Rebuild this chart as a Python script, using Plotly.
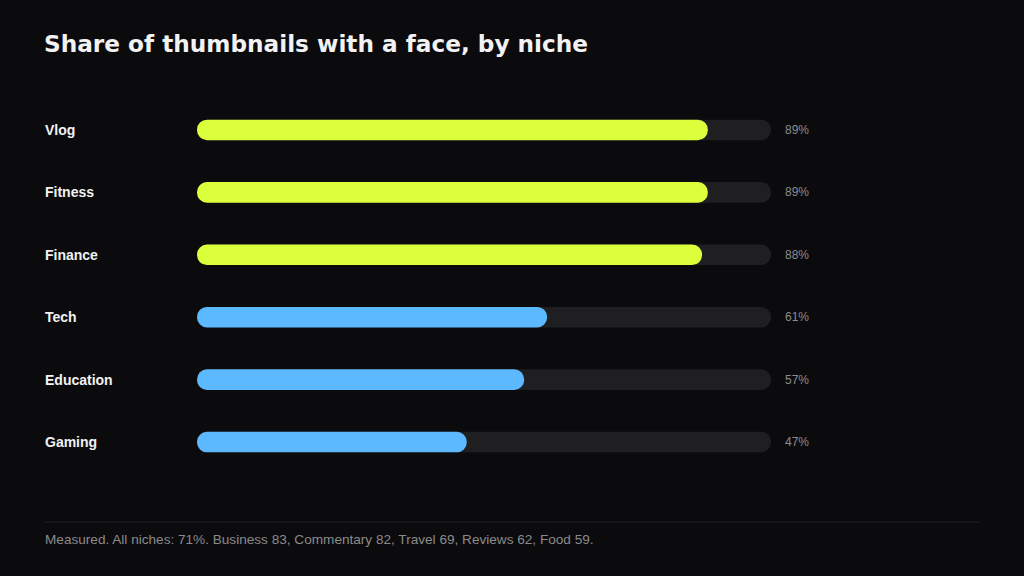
import plotly.graph_objects as go

niches = ["Vlog", "Fitness", "Finance", "Tech", "Education", "Gaming"]
shares = [89, 89, 88, 61, 57, 47]
bar_colors = ["#dcff3c", "#dcff3c", "#dcff3c", "#5cb8ff", "#5cb8ff", "#5cb8ff"]
track_max = 100
title_text = "Share of thumbnails with a face, by niche"
footer_text = "Measured. All niches: 71%. Business 83, Commentary 82, Travel 69, Reviews 62, Food 59."

W, H = 1024, 576
BG = "#0b0b0e"
TRACK = "#1f1f21"
BAR_W = 0.33

fig = go.Figure()
fig.add_trace(go.Bar(
    y=niches, x=[track_max] * len(niches), base=[0] * len(niches), orientation="h", yaxis="y",
    marker=dict(color=TRACK, line=dict(width=0), cornerradius="50%"),
    width=BAR_W, hoverinfo="skip", showlegend=False,
))
fig.add_trace(go.Bar(
    y=niches, x=shares, base=[0] * len(niches), orientation="h", yaxis="y2",
    marker=dict(color=bar_colors, line=dict(width=0), cornerradius="50%"),
    width=BAR_W, hoverinfo="skip", showlegend=False,
))

FONT = "Liberation Sans, Arial, sans-serif"
annotations = []
for n, v in zip(niches, shares):
    annotations.append(dict(
        x=43 / W, xref="paper", y=n, yref="y", text=f"<b>{n}</b>",
        xanchor="left", yanchor="middle", showarrow=False,
        font=dict(family=FONT, size=14, color="#f2f2f2"),
    ))
    annotations.append(dict(
        x=783 / W, xref="paper", y=n, yref="y", text=f"{v}%",
        xanchor="left", yanchor="middle", showarrow=False,
        font=dict(family=FONT, size=12, color="#8c8c8c"),
    ))
annotations.append(dict(
    x=42 / W, xref="paper", y=1 - 43 / H, yref="paper", text=f"<b>{title_text}</b>",
    xanchor="left", yanchor="middle", showarrow=False,
    font=dict(family="DejaVu Sans, sans-serif", size=23.2, color="#f2f2f2"),
))
annotations.append(dict(
    x=43 / W, xref="paper", y=1 - 539 / H, yref="paper", text=footer_text,
    xanchor="left", yanchor="middle", showarrow=False,
    font=dict(family=FONT, size=13.6, color="#8a8a8a"),
))

ydom = [1 - 473.25 / H, 1 - 98.75 / H]
yrange = [len(niches) - 0.5, -0.5]
yax = dict(domain=ydom, range=yrange, visible=False, fixedrange=True,
           categoryorder="array", categoryarray=niches)

fig.update_layout(
    width=W, height=H,
    paper_bgcolor=BG, plot_bgcolor=BG,
    margin=dict(l=0, r=0, t=0, b=0),
    barmode="overlay",
    xaxis=dict(domain=[197 / W, 771 / W], range=[0, track_max], visible=False, fixedrange=True),
    yaxis=yax,
    yaxis2=dict(yax, overlaying="y"),
    annotations=annotations,
    shapes=[dict(type="line", xref="paper", yref="paper",
                 x0=45 / W, x1=980 / W, y0=1 - 522 / H, y1=1 - 522 / H,
                 line=dict(color="#1e1e21", width=1))],
)

fig.write_html(
    "out.html",
    config={"displayModeBar": False},
    post_script="document.body.style.margin='0';document.body.style.background='#0b0b0e';",
)
